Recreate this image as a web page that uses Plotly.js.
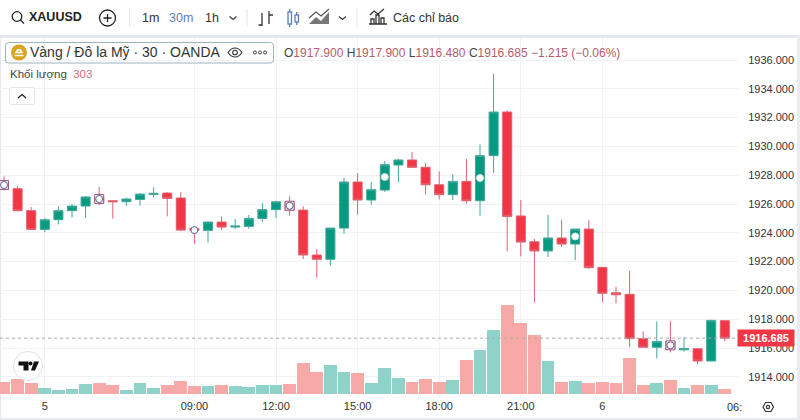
<!DOCTYPE html>
<html><head><meta charset="utf-8">
<script src="https://cdn.plot.ly/plotly-3.0.1.min.js"></script>
<style>
html,body{margin:0;padding:0;background:#fff;width:800px;height:420px;overflow:hidden}
#band{position:absolute;left:0;top:35px;width:800px;height:3px;background:#e6e8f0}
#edgeL{position:absolute;left:0;top:35px;width:1px;height:385px;background:#e6e8f0}
#edgeR{position:absolute;left:797px;top:35px;width:3px;height:385px;background:#e9ebf1}
#edgeB{position:absolute;left:0;top:418px;width:800px;height:2px;background:#e9ebf1}
#chart{position:absolute;left:0;top:0;width:800px;height:420px}
#icons{position:absolute;left:0;top:0;pointer-events:none}
</style></head><body>
<div id="band"></div><div id="edgeL"></div><div id="edgeR"></div><div id="edgeB"></div>
<div id="chart"></div>
<svg id="icons" width="800" height="420" xmlns="http://www.w3.org/2000/svg">
  <g fill="none" stroke="#222" stroke-width="1.3">
    <circle cx="17" cy="16.5" r="4.8"/><path d="M20.5 20l3.5 3.5"/>
    <circle cx="107.5" cy="18" r="8"/><path d="M103.5 18h8M107.5 14v8"/>
    <path d="M229.5 16.5l3.5 3 3.5-3M339 16.5l3.5 3 3.5-3" stroke="#444"/>
    <path d="M262 13v13M258.5 25h3.5M269 11v13M269 15h4" stroke="#333"/>
    <g stroke="#5b7fb8"><rect x="288" y="12" width="3.5" height="12"/><path d="M289.7 9v3M289.7 24v3"/>
    <rect x="295" y="15" width="3.5" height="7"/><path d="M296.7 12v3M296.7 22v3"/></g>
    <path d="M369 24h18M371 24v-5h3v5M376 24v-9h3v9M381 24v-6h3v6M370 15l4-4 4 3 6-5" stroke="#333"/>
  </g>
  <path d="M309 24l7-7 5 4 8-9v12z" fill="#777"/>
  <path d="M309 18l7-6 5 4 8-7" fill="none" stroke="#555" stroke-width="1.2"/>
  <path d="M129.5 9v18M247 9v18M357 9v18" stroke="#e4e6ea" stroke-width="1"/>
  <rect x="5.5" y="42.5" width="268" height="20.5" rx="3" fill="none" stroke="#9cb4be" stroke-width="1"/>
  <circle cx="19" cy="52.5" r="8" fill="#d8a520"/>
  <path d="M14.5 55.5h9M16 52.5h6l-1.5-2.5h-3z" stroke="#fff" stroke-width="1.5" fill="none"/>
  <g fill="none" stroke="#333" stroke-width="1.1">
    <path d="M228 52.5c4-6 10-6 14 0c-4 6-10 6-14 0z"/><circle cx="235" cy="52.5" r="2.3"/>
  </g>
  <g fill="#fff" stroke="#444" stroke-width="1"><circle cx="255" cy="52.5" r="1.5"/><circle cx="260" cy="52.5" r="1.5"/><circle cx="265" cy="52.5" r="1.5"/></g>
  <rect x="9.5" y="87.5" width="25" height="17" rx="2" fill="#fff" stroke="#e4e6ea"/>
  <path d="M18 98l4-3.5 4 3.5" fill="none" stroke="#222" stroke-width="1.3"/>
  <circle cx="28" cy="366" r="14.5" fill="#fff" stroke="#dfe1e6"/>
  <path d="M18.5 361.5h10v9h-5v-5h-5zM31 370.5l3-9h5l-4 9z" fill="#111"/><circle cx="30.5" cy="363.5" r="2" fill="#111"/>
  <path d="M763 407l2.5-4.5h5.5l2.5 4.5-2.5 4.5h-5.5z" fill="none" stroke="#333" stroke-width="1.2"/>
  <circle cx="768" cy="407" r="1.6" fill="none" stroke="#333" stroke-width="1.2"/>
</svg>
<script>
var candleIndex = [];
var open_ = [1927.57,1927.06,1925.54,1924.24,1924.91,1925.54,1925.86,1926.49,1926.23,1926.16,1926.32,1926.67,1926.76,1926.42,1924.31,1924.17,1924.75,1924.40,1924.45,1925.00,1925.61,1926.14,1925.58,1922.46,1922.16,1924.33,1927.53,1926.28,1926.97,1928.71,1929.06,1928.55,1927.34,1926.65,1927.57,1926.23,1929.36,1932.39,1925.17,1923.38,1922.74,1923.64,1923.22,1924.26,1921.60,1919.84,1919.73,1916.65,1916.05,1916.46,1915.88,1915.95,1915.10,1917.90];
var high_ = [1927.92,1927.23,1925.79,1925.03,1925.84,1926.00,1926.56,1927.18,1926.23,1926.44,1926.76,1927.16,1926.83,1926.83,1924.45,1924.80,1925.14,1924.96,1925.24,1926.05,1926.23,1926.53,1925.84,1922.87,1924.33,1927.81,1928.15,1927.53,1928.99,1929.13,1929.61,1928.85,1928.27,1928.08,1929.13,1930.14,1935.05,1932.50,1926.28,1923.57,1925.26,1924.91,1924.26,1924.87,1921.60,1920.24,1921.35,1917.16,1917.85,1917.87,1916.76,1915.95,1917.97,1917.90];
var low_ = [1926.95,1925.49,1924.19,1924.06,1924.59,1925.07,1925.03,1925.91,1924.98,1925.88,1925.88,1926.46,1925.14,1924.12,1923.25,1923.34,1924.19,1924.26,1924.28,1924.75,1925.03,1925.19,1922.18,1920.88,1921.72,1923.94,1925.26,1925.95,1926.83,1927.53,1928.50,1926.65,1926.32,1926.28,1926.02,1925.19,1928.15,1922.71,1922.37,1919.17,1922.32,1923.01,1922.09,1921.51,1919.19,1919.10,1916.05,1916.05,1915.28,1915.70,1915.75,1914.87,1915.10,1916.48];
var close_ = [1927.04,1925.54,1924.24,1924.91,1925.54,1925.86,1926.49,1926.12,1926.16,1926.35,1926.69,1926.74,1926.39,1924.19,1924.17,1924.75,1924.40,1924.47,1925.00,1925.61,1926.16,1925.58,1922.46,1922.16,1924.33,1927.53,1926.28,1927.00,1928.73,1929.06,1928.55,1927.34,1926.65,1927.57,1926.23,1929.36,1932.39,1925.14,1923.36,1922.74,1923.64,1923.22,1924.26,1921.58,1919.80,1919.70,1916.65,1916.05,1916.46,1915.93,1915.95,1915.10,1917.92,1916.685];
var volume = [747,929,707,364,283,323,626,687,586,283,667,384,545,828,485,485,545,485,424,566,566,646,1879,1374,1798,1333,1293,707,1576,970,747,909,747,869,2060,2707,3899,5414,4343,3575,2000,747,828,687,747,687,2202,566,687,869,384,566,566,303];
var timeTickIndex = [3,14,20,26,32,38,44];
var timeTickText = ["5","09:00","12:00","15:00","18:00","21:00","6"];
var priceTicks = [1914,1916,1918,1920,1922,1924,1926,1928,1930,1932,1934,1936];
var priceTickText = ["1914.000","1916.000","1918.000","1920.000","1922.000","1924.000","1926.000","1928.000","1930.000","1932.000","1934.000","1936.000"];
var ringEventIndex = [28,35,42];
var ringEventPrice = [1927.875,1927.81,1923.75];
var boxEventIndex = [0,7,21,49];
var boxEventPrice = [1927.32,1926.35,1925.88,1916.19];
var plainEventIndex = [14];
var plainEventPrice = [1924.19];
var lastPrice = 1916.685;

for (var i = 0; i < close_.length; i++) candleIndex.push(i);
var UP = '#089981', DOWN = '#f23645', UP_V = '#8fd2c9', DOWN_V = '#f7a9a8';
var FONT = '"Liberation Sans", Arial, sans-serif';
var volColors = close_.map(function (c, i) { return c >= open_[i] ? UP_V : DOWN_V; });

var L = 738, T = 38, H = 360;
function note(px, py, text, size, color, extra) {
  var a = {xref: 'paper', yref: 'paper', x: px / L, y: 1 - (py - T) / H, text: text, showarrow: false,
    xanchor: 'left', yanchor: 'middle', borderpad: 0, font: {family: FONT, size: size, color: color}};
  for (var k in extra) a[k] = extra[k];
  return a;
}
var red = '#b85c6c';
function s(c, t) { return '<span style="color:' + c + '">' + t + '</span>'; }

var traces = [
  {type: 'bar', x: candleIndex, y: volume, yaxis: 'y', marker: {color: volColors, line: {width: 0}}, width: 0.95, hoverinfo: 'skip'},
  {type: 'candlestick', x: candleIndex, open: open_, high: high_, low: low_, close: close_, yaxis: 'y2', whiskerwidth: 0,
    increasing: {line: {color: '#3fa897', width: 1}, fillcolor: UP},
    decreasing: {line: {color: '#e0606f', width: 1}, fillcolor: DOWN}, hoverinfo: 'skip'},
  {type: 'scatter', mode: 'markers', x: boxEventIndex, y: boxEventPrice, yaxis: 'y2', hoverinfo: 'skip',
    marker: {symbol: 'square', size: 9, color: 'rgba(255,255,255,0.8)', line: {color: '#9a5a86', width: 1}}},
  {type: 'scatter', mode: 'markers', x: boxEventIndex.concat(plainEventIndex), y: boxEventPrice.concat(plainEventPrice), yaxis: 'y2', hoverinfo: 'skip',
    marker: {symbol: 'circle', size: 7, color: '#fff', line: {color: '#5a6a90', width: 1}}},
  {type: 'scatter', mode: 'markers', x: ringEventIndex, y: ringEventPrice, yaxis: 'y2', hoverinfo: 'skip',
    marker: {symbol: 'circle', size: 7, color: '#fff', line: {color: '#cfe8e3', width: 1}}}
];

var layout = {
  width: 800, height: 420, showlegend: false, dragmode: false,
  paper_bgcolor: 'rgba(0,0,0,0)', plot_bgcolor: 'rgba(0,0,0,0)',
  margin: {l: 0, r: 62, t: 38, b: 22, pad: 0}, boxgap: 0.05, bargap: 0,
  font: {family: FONT, color: '#333'},
  xaxis: {type: 'linear', range: [-0.294, 53.97], rangeslider: {visible: false}, tickmode: 'array', tickvals: timeTickIndex, ticktext: timeTickText,
    showgrid: true, gridcolor: '#f0f2f6', gridwidth: 1, zeroline: false, showline: false, ticks: '', tickfont: {family: FONT, size: 11, color: '#333'}},
  yaxis: {range: [-224, 21592], visible: false, fixedrange: true, showgrid: false, zeroline: false},
  yaxis2: {overlaying: 'y', side: 'right', anchor: 'x', range: [1912.53, 1937.53], tickmode: 'array', tickvals: priceTicks, ticktext: priceTickText,
    showgrid: true, gridcolor: '#f0f2f6', gridwidth: 1, zeroline: false, showline: false, ticks: 'outside', ticklen: 7, tickcolor: 'rgba(0,0,0,0)',
    tickfont: {family: FONT, size: 11, color: '#333'}},
  shapes: [{type: 'line', xref: 'paper', x0: 0, x1: 1, yref: 'y2', y0: lastPrice, y1: lastPrice, line: {color: '#b0a8a8', width: 1, dash: 'dot'}}],
  annotations: [
    note(28, 17.5, '<b>XAUUSD</b>', 12.5, '#222'),
    note(141, 18, '1m', 12.5, '#333'),
    note(168, 18, '30m', 12.5, '#5b7fb8'),
    note(204, 18, '1h', 12.5, '#333'),
    note(392, 18, 'Các chỉ báo', 12.5, '#333'),
    note(29, 52.5, 'Vàng / Đô la Mỹ · 30 · OANDA', 14, '#333'),
    note(283, 53.5, 'O' + s(red, '1917.900') + ' H' + s(red, '1917.900') + ' L' + s(red, '1916.480') + ' C' + s(red, '1916.685') + ' ' + s(red, '−1.215 (−0.06%)'), 12, '#444'),
    note(9, 74, 'Khối lượng  ' + s('#c9707c', '303'), 11.5, '#444'),
    note(726, 407, '06:', 11, '#333'),
    {xref: 'paper', yref: 'y2', x: 766 / L, y: lastPrice, text: '<b>1916.685</b>', showarrow: false, xanchor: 'center', yanchor: 'middle',
      width: 56, height: 16, bgcolor: DOWN, borderpad: 0, font: {family: FONT, size: 11, color: '#fff'}}
  ]
};
Plotly.newPlot('chart', traces, layout, {displayModeBar: false, staticPlot: true});
</script>
</body></html>
